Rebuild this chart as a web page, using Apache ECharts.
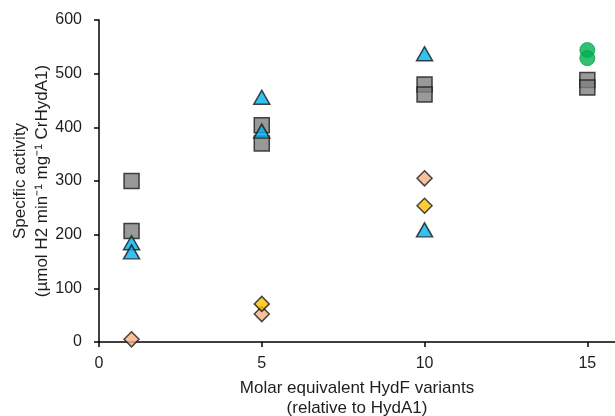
<!DOCTYPE html>
<html><head><meta charset="utf-8">
<script src="https://cdn.jsdelivr.net/npm/echarts@6/dist/echarts.min.js"></script>
<style>html,body{margin:0;padding:0;background:#fff}#c{width:615px;height:416px}</style>
</head><body><div id="c"></div>
<script>
const xTicks = [0, 5, 10, 15];
const yTicks = [0, 100, 200, 300, 400, 500, 600];
const squaresGray = [[1, 300], [1, 207], [5, 404], [5, 370], [10, 480], [10, 461], [15, 488], [15, 474]];
const trianglesBlue = [[1, 185], [1, 168], [5, 456], [5, 393], [10, 537], [10, 209]];
const diamondsOrange = [[1, 5], [5, 52], [10, 305]];
const diamondsYellow = [[5, 71], [10, 254]];
const circlesGreen = [[15, 544], [15, 529]];

const chart = echarts.init(document.getElementById('c'));
const font = 'Liberation Sans, Arial, sans-serif';
const border = {borderColor: '#1a1a1a', borderWidth: 1.5};
chart.setOption({
  animation: false,
  grid: {left: 99, right: 0, top: 20, bottom: 74, outerBoundsMode: 'none', containLabel: false},
  xAxis: {
    type: 'value', min: 0, max: 15.85, interval: 5,
    name: 'Molar equivalent HydF variants\n(relative to HydA1)',
    nameLocation: 'middle', nameGap: 36,
    nameTextStyle: {fontFamily: font, fontSize: 17, color: '#1e1e1e', lineHeight: 20},
    axisLine: {lineStyle: {color: '#000', width: 1.5}},
    axisTick: {length: 5, lineStyle: {color: '#000', width: 1.5}},
    axisLabel: {fontFamily: font, fontSize: 16, color: '#1e1e1e', margin: 14, showMaxLabel: false,
      formatter: v => xTicks.includes(v) ? String(v) : ''},
    splitLine: {show: false}
  },
  yAxis: {
    type: 'value', min: 0, max: 600, interval: 100,
    name: 'Specific activity\n(µmol H2 min⁻¹ mg⁻¹ CrHydA1)',
    nameLocation: 'middle', nameGap: 46, nameRotate: 90, nameMoveOverlap: false,
    nameTextStyle: {fontFamily: font, fontSize: 17, color: '#1e1e1e', lineHeight: 22},
    axisLine: {show: true, lineStyle: {color: '#000', width: 1.5}},
    axisTick: {show: true, length: 5, lineStyle: {color: '#000', width: 1.5}},
    axisLabel: {fontFamily: font, fontSize: 16, color: '#1e1e1e', margin: 17,
      formatter: v => yTicks.includes(v) ? String(v) : ''},
    splitLine: {show: false}
  },
  series: [
    {type: 'scatter', data: squaresGray, symbol: 'rect', symbolSize: 15,
      itemStyle: Object.assign({color: '#808080'}, border)},
    {type: 'scatter', data: trianglesBlue, symbol: 'triangle', symbolSize: [16, 14],
      itemStyle: Object.assign({color: '#00b0f0'}, border)},
    {type: 'scatter', data: diamondsOrange, symbol: 'diamond', symbolSize: 15,
      itemStyle: Object.assign({color: '#f4b183'}, border)},
    {type: 'scatter', data: diamondsYellow, symbol: 'diamond', symbolSize: 15,
      itemStyle: Object.assign({color: '#ffc000'}, border)},
    {type: 'scatter', data: circlesGreen, symbol: 'circle', symbolSize: 15,
      itemStyle: {color: '#00b050', borderColor: '#00a04a', borderWidth: 1}}
  ]
});
</script></body></html>
